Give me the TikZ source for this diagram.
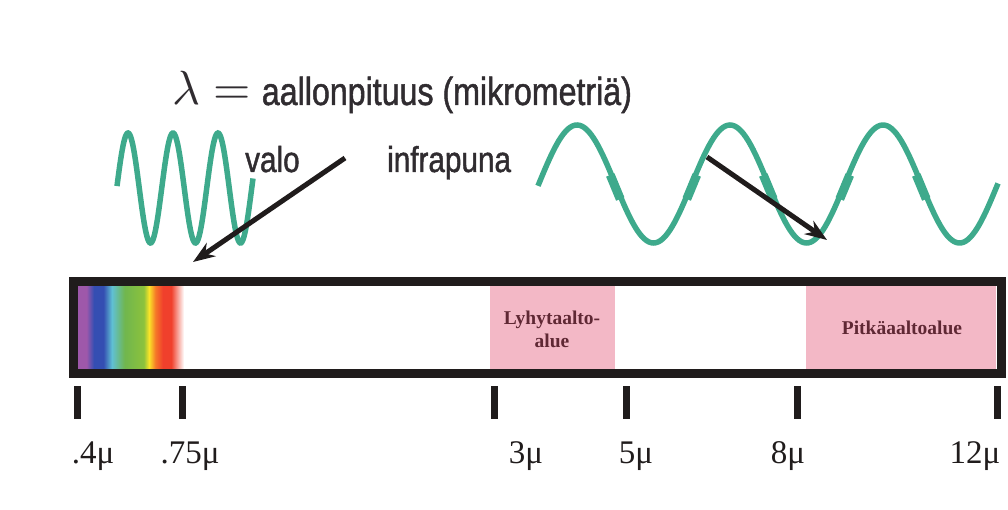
\documentclass[tikz,border=0pt]{standalone}
\usepackage{graphicx}
\usepackage{fontspec}
\setmainfont{Liberation Serif}
\newfontfamily\wavefont[FakeStretch=0.825,FakeBold=1.2]{Liberation Sans}
\usepackage{xcolor}
\usepackage{tikz}
\usetikzlibrary{calc,arrows.meta,positioning}

\definecolor{wavegreen}{RGB}{62,170,140}
\definecolor{bandpink}{RGB}{243,184,198}
\definecolor{inkblack}{RGB}{32,28,28}
\definecolor{inkgrey}{RGB}{48,44,48}
\definecolor{bandink}{RGB}{95,40,52}
\definecolor{specviolet}{RGB}{158,88,170}
\definecolor{specblue}{RGB}{52,78,178}
\definecolor{speccyan}{RGB}{96,192,212}
\definecolor{specgreen}{RGB}{112,182,78}
\definecolor{speclime}{RGB}{140,194,60}
\definecolor{specyellow}{RGB}{250,228,40}
\definecolor{specorange}{RGB}{245,120,40}
\definecolor{specred}{RGB}{240,64,44}

% stops sit in the middle 25bp--75bp, which TikZ fits to the path
\pgfdeclarehorizontalshading{spectrum}{100bp}{%
  color(0bp)=(specviolet); color(29bp)=(specviolet); color(32.5bp)=(specblue);
  color(37bp)=(specblue); color(41bp)=(speccyan); color(47bp)=(specgreen);
  color(56bp)=(speclime); color(58.5bp)=(specyellow); color(61.5bp)=(specorange);
  color(65bp)=(specred); color(69bp)=(specred); color(75bp)=(white);
  color(100bp)=(white)}

\begin{document}
\begin{tikzpicture}[x=1pt,y=-1pt,>={Stealth[length=22pt,width=16pt]},
  wave/.style={draw=wavegreen,line width=5.5pt},
  pointer/.style={->,draw=inkblack,line width=5pt},
  tickmark/.style={draw=inkblack,line width=7pt},
  sanslab/.style={anchor=base west,inner sep=0pt,text=inkgrey,font=\wavefont\fontsize{36}{36}\selectfont},
  scalelab/.style={anchor=base,inner sep=0pt,text=inkblack,font=\fontsize{33}{33}\selectfont},
  bandlab/.style={inner sep=0pt,align=center,text=bandink,font=\bfseries\fontsize{19.5}{23}\selectfont}]
  \useasboundingbox (0,0) rectangle (1008,510);

  % --- Labels on top ---
  \node[sanslab,font=\wavefont\fontsize{39}{39}\selectfont] (title) at (172,105)
    {{\fontsize{10}{12}\selectfont\scalebox{4.8}{$\lambda=$}}\hspace{11pt}aallonpituus (mikrometriä)};
  \node[sanslab] (valo) at (245,172) {valo};
  \node[sanslab] (infra) at (387,172) {infrapuna};

  % --- Short wave (light), period 45 ---
  \draw[wave] plot[domain=117:253,samples=160] (\x,{188-55*sin(8*(\x-116.75))});

  % --- Long wave (infrared), period 153 ---
  \draw[wave] plot[domain=538:998,samples=200] (\x,{184-59*sin(2.3529*(\x-538.75))});
  \foreach \k in {1,...,5}{
    \pgfmathsetmacro\xa{538.75+76.5*\k-5}
    \pgfmathsetmacro\xb{538.75+76.5*\k+5}
    \draw[wave,line width=9pt] plot[domain=\xa:\xb,samples=6] (\x,{187-59*sin(2.3529*(\x-538.75))});
  }

  % --- Arrows ---
  \coordinate (valotail) at (345,158);
  \coordinate (valotip) at (193,262);
  \draw[pointer] (valotail) -- (valotip);
  \coordinate (infratail) at (707,157);
  \coordinate (infratip) at (827,240);
  \draw[pointer] (infratail) -- (infratip);

  % --- Scale bar ---
  \shade[shading=spectrum] (78,286) rectangle (184,369);
  \fill[bandpink] (490,286) rectangle (615,369);
  \fill[bandpink] (806,286) rectangle (996,369);
  \draw[draw=inkblack,line width=9pt] (73,281.5) rectangle (1001,373.5);
  \node[bandlab] (short) at (552,329) {Lyhytaalto-\\alue};
  \node[bandlab] (long) at (902,328) {Pitkäaaltoalue};

  % --- Ticks and values ---
  \foreach \nm/\x in {a/77,b/182,c/494,d/626,e/797,f/997}{
    \coordinate (tick\nm) at (\x,386);
    \draw[tickmark] (tick\nm) -- ++(0,33);
  }
  \node[scalelab] (val04) at (93,463) {.4μ};
  \node[scalelab] (val075) at (190,463) {.75μ};
  \node[scalelab] (val3) at (526,463) {3μ};
  \node[scalelab] (val5) at (636,463) {5μ};
  \node[scalelab] (val8) at (788,463) {8μ};
  \node[scalelab] (val12) at (975,463) {12μ};
\end{tikzpicture}
\end{document}
